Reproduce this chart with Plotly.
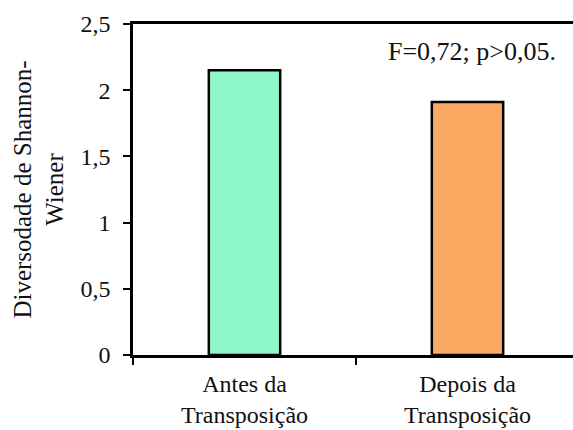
import plotly.graph_objects as go

categories = ["Antes da<br>Transposição", "Depois da<br>Transposição"]
values = [2.15, 1.91]
colors = ["#8ff8c8", "#fbaa64"]
y_ticks = [0, 0.5, 1, 1.5, 2, 2.5]
y_ticklabels = ["0", "0,5", "1", "1,5", "2", "2,5"]
stat_text = "F=0,72; p>0,05."
y_title = "Diversodade de Shannon-<br>Wiener"

font_family = "Liberation Serif"

fig = go.Figure(go.Bar(
    x=categories, y=values,
    marker=dict(color=colors, line=dict(color="black", width=2.5)),
    width=0.32,
))

fig.update_layout(
    width=573, height=430,
    margin=dict(l=133, r=0, t=24, b=75, autoexpand=False),
    paper_bgcolor="white", plot_bgcolor="white",
    font=dict(family=font_family, size=22, color="#111111"),
    showlegend=False,
    xaxis=dict(
        type="category",
        automargin=False,
        range=[-0.5, -0.5 + 440 / 223],
        tickson="boundaries",
        ticks="outside", ticklen=7, tickwidth=2, tickcolor="black",
        showline=True, linecolor="black", linewidth=2.5,
        mirror=True,
        showgrid=False,
        tickfont=dict(size=24, family=font_family),
        ticklabelstandoff=5,
    ),
    yaxis=dict(
        automargin=False,
        range=[0, 2.5],
        tickvals=y_ticks, ticktext=y_ticklabels,
        ticks="outside", ticklen=7, tickwidth=2, tickcolor="black",
        showline=True, linecolor="black", linewidth=2.5,
        showgrid=False, zeroline=False,
        tickfont=dict(size=24, family=font_family),
        ticklabelstandoff=8,
        title=dict(text=y_title, font=dict(size=25, family=font_family), standoff=10),
    ),
    annotations=[dict(
        text=stat_text, xref="paper", yref="paper",
        x=0.965, y=0.918, xanchor="right", yanchor="middle",
        showarrow=False, font=dict(size=26, family=font_family),
    )],
)

fig.write_html("out.html", config={"displayModeBar": False},
               post_script="document.body.style.margin='0';")
